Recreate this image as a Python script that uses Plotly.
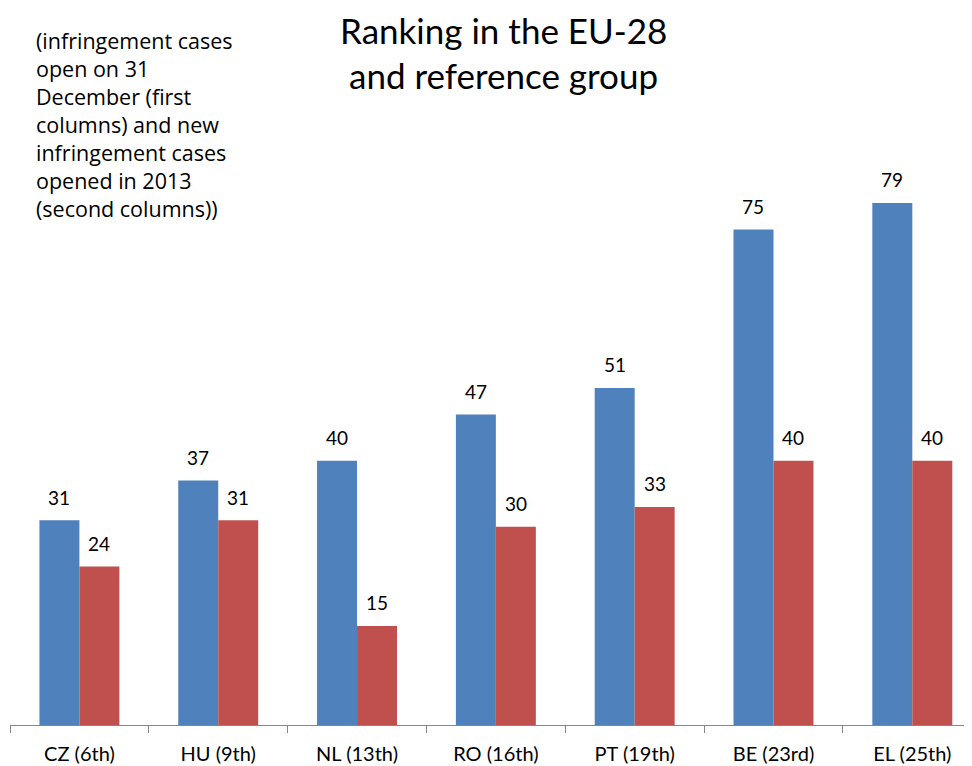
import plotly.graph_objects as go

categories = ["CZ (6th)", "HU (9th)", "NL (13th)", "RO (16th)", "PT (19th)", "BE (23rd)", "EL (25th)"]
open_cases = [31, 37, 40, 47, 51, 75, 79]
new_cases = [24, 31, 15, 30, 33, 40, 40]
title_lines = ["Ranking in the EU-28", "and reference group"]

FONT = "Lato"
BLUE = "#4F81BD"
RED = "#C0504D"

fig = go.Figure()
fig.add_trace(go.Bar(x=categories, y=open_cases, marker_color=BLUE,
                     marker_line_width=0, name="open"))
fig.add_trace(go.Bar(x=categories, y=new_cases, marker_color=RED,
                     marker_line_width=0, name="new"))

# value labels above bars
for cat, v in zip(categories, open_cases):
    fig.add_annotation(x=cat, y=v, xshift=-20, yshift=23, text=str(v),
                       showarrow=False, yanchor="middle", xanchor="center",
                       font=dict(size=19, family=FONT, color="#000000"))
for cat, v in zip(categories, new_cases):
    fig.add_annotation(x=cat, y=v, xshift=20, yshift=23, text=str(v),
                       showarrow=False, yanchor="middle", xanchor="center",
                       font=dict(size=19, family=FONT, color="#000000"))

fig.update_layout(
    width=964, height=758,
    margin=dict(l=2, r=0, t=2, b=41),
    plot_bgcolor="white", paper_bgcolor="white",
    barmode="group", bargap=0.424, bargroupgap=0,
    showlegend=False,
    font=dict(family=FONT, color="#000000"),
    xaxis=dict(range=[-0.5, 6.43], showline=True, linecolor="#868686", linewidth=1,
               ticks="outside", ticklen=7, tickcolor="#868686", tickson="boundaries",
               tickfont=dict(size=20, family=FONT, color="#000000"), showgrid=False,
               ticklabelstandoff=11, automargin=False, fixedrange=True),
    yaxis=dict(range=[0, 108.2], visible=False, showgrid=False, fixedrange=True),
)

for line, yc in zip(title_lines, [22, 67]):
    fig.add_annotation(text=line,
                       xref="paper", yref="paper", x=(495 - 2) / 962, y=1 + (2 - yc) / 715,
                       xanchor="center", yanchor="middle", showarrow=False,
                       font=dict(size=35, family=FONT, color="#000000"))
fig.add_annotation(text="(infringement cases<br>open on 31<br>December (first<br>columns) and new<br>infringement cases<br>opened in 2013<br>(second columns))",
                   xref="paper", yref="paper", x=(26 - 2) / 962, y=1 + (2 - 16) / 715,
                   xanchor="left", yanchor="top", align="left", showarrow=False,
                   font=dict(size=21.5, family="Open Sans", color="#000000"))

fig.write_html("out.html")
